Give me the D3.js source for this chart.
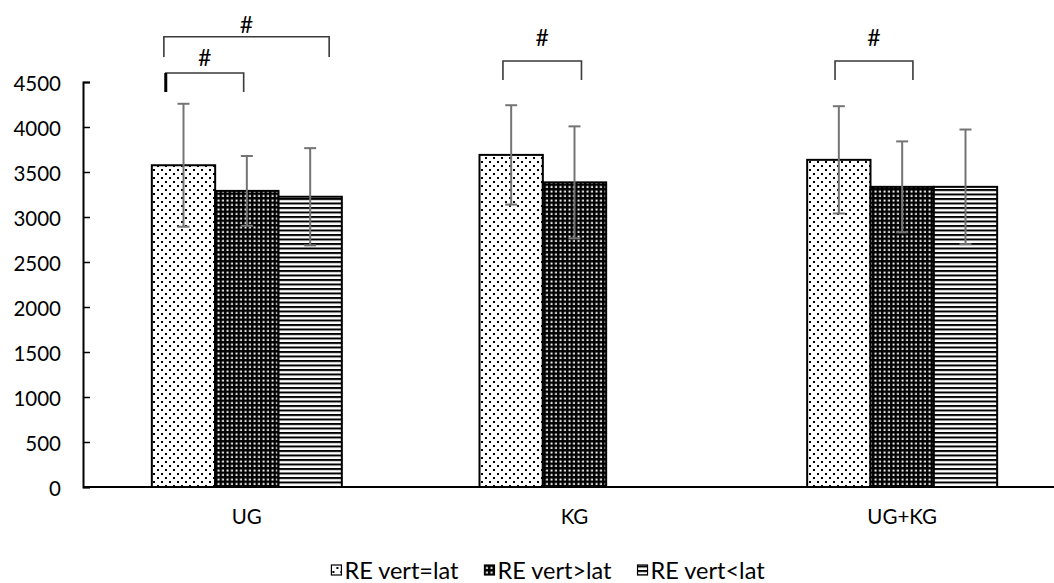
<!DOCTYPE html>
<html>
<head>
<meta charset="utf-8">
<script src="https://cdn.jsdelivr.net/npm/d3@7"></script>
<style>
  html, body { margin: 0; padding: 0; background: #fff; }
  svg { display: block; }
  text { font-family: Lato, "Open Sans", sans-serif; fill: #000; }
</style>
</head>
<body>
<svg id="chart" width="1054" height="583"></svg>
<script>
// Groups on the x axis and the three RE series
const categories = ["UG", "KG", "UG+KG"];
const seriesNames = ["RE vert=lat", "RE vert>lat", "RE vert<lat"];

// Mean values per series (one entry per group; null = no data)
const meanEq = [3575, 3690, 3635];
const meanGt = [3290, 3385, 3335];
const meanLt = [3225, null, 3335];

// Standard deviations per series
const sdEq = [683, 552, 596];
const sdGt = [388, 622, 505];
const sdLt = [540, null, 637];

const yTicks = [0, 500, 1000, 1500, 2000, 2500, 3000, 3500, 4000, 4500];

// Significance brackets: group, start/end in bar units, bracket level, leg level, label level
const bracketGroup = ["UG", "UG", "KG", "UG+KG"];
const bracketFrom  = [0.22, 0.19, 0.37, 0.44];
const bracketTo    = [1.45, 2.8, 1.61, 1.67];
const bracketTop   = [4600, 5003, 4733, 4733];
const bracketLeg   = [4389, 4778, 4522, 4522];
const bracketMark  = [4778, 5144, 5000, 5000];
const bracketText  = ["#", "#", "#", "#"];

const means = [meanEq, meanGt, meanLt];
const sds = [sdEq, sdGt, sdLt];

const svg = d3.select("#chart");
const W = 1054;

const plotLeft = 83, plotRight = 1066, plotBottom = 487, plotTop = 82;

const x0 = d3.scaleBand().domain(categories).range([plotLeft, plotRight]).padding(0);
const groupWidth = 190;
const x1 = d3.scaleBand().domain(seriesNames).range([0, groupWidth]).padding(0);
const y = d3.scaleLinear().domain([0, 4500]).range([plotBottom, plotTop]);

// Fill patterns for the three series
const defs = svg.append("defs");
const pDots = defs.append("pattern").attr("id", "pat0")
  .attr("patternUnits", "userSpaceOnUse").attr("width", 8).attr("height", 8);
pDots.append("rect").attr("width", 8).attr("height", 8).attr("fill", "#fff");
pDots.append("rect").attr("x", 1).attr("y", 1).attr("width", 2).attr("height", 2).attr("fill", "#000");
pDots.append("rect").attr("x", 5).attr("y", 5).attr("width", 2).attr("height", 2).attr("fill", "#000");

const pGrid = defs.append("pattern").attr("id", "pat1")
  .attr("patternUnits", "userSpaceOnUse").attr("width", 4.5).attr("height", 4.5);
pGrid.append("rect").attr("width", 4.5).attr("height", 4.5).attr("fill", "#000");
pGrid.append("rect").attr("x", 1.5).attr("y", 1.5).attr("width", 2).attr("height", 2).attr("fill", "#fff");

const pLines = defs.append("pattern").attr("id", "pat2")
  .attr("patternUnits", "userSpaceOnUse").attr("width", 8).attr("height", 4.5);
pLines.append("rect").attr("width", 8).attr("height", 4.5).attr("fill", "#fff");
pLines.append("rect").attr("y", 0).attr("width", 8).attr("height", 2).attr("fill", "#000");

const fills = ["url(#pat0)", "url(#pat1)", "url(#pat2)"];

// Y axis (inside ticks)
const yAxis = d3.axisRight(y).tickValues(yTicks).tickSize(7).tickFormat("");
const yg = svg.append("g").attr("transform", `translate(${plotLeft},0)`).call(yAxis);
yg.select(".domain").attr("stroke", "#000").attr("stroke-width", 2);
yg.selectAll(".tick line").attr("stroke", "#000").attr("stroke-width", 1.5);

svg.append("g").selectAll("text").data(yTicks).join("text")
  .attr("x", 61).attr("y", d => y(d) + 1)
  .attr("text-anchor", "end").attr("dominant-baseline", "central")
  .style("font-size", "20.5px").text(d => d);

// Bars
const groupStart = c => x0(c) + x0.bandwidth() / 2 - groupWidth / 2;
const barData = [];
seriesNames.forEach((s, si) => {
  categories.forEach((c, ci) => {
    const v = means[si][ci];
    if (v != null) barData.push({ s, si, c, v, sd: sds[si][ci] });
  });
});

svg.append("g").selectAll("rect").data(barData).join("rect")
  .attr("x", d => groupStart(d.c) + x1(d.s))
  .attr("y", d => y(d.v))
  .attr("width", x1.bandwidth())
  .attr("height", d => y(0) - y(d.v))
  .attr("fill", d => fills[d.si])
  .attr("stroke", "#000").attr("stroke-width", 2);

// X axis line
svg.append("line").attr("x1", plotLeft).attr("x2", W).attr("y1", y(0)).attr("y2", y(0))
  .attr("stroke", "#000").attr("stroke-width", 2);

// Error bars
const eb = svg.append("g").attr("stroke", "#747474").attr("stroke-width", 2).attr("fill", "none");
barData.forEach(d => {
  const cx = groupStart(d.c) + x1(d.s) + x1.bandwidth() / 2;
  const y1 = y(d.v + d.sd), y2 = y(d.v - d.sd);
  eb.append("line").attr("x1", cx).attr("x2", cx).attr("y1", y1).attr("y2", y2);
  eb.append("line").attr("x1", cx - 6).attr("x2", cx + 6).attr("y1", y1).attr("y2", y1);
  eb.append("line").attr("x1", cx - 6).attr("x2", cx + 6).attr("y1", y2).attr("y2", y2);
});

// Category labels
svg.append("g").selectAll("text").data(categories).join("text")
  .attr("x", c => x0(c) + x0.bandwidth() / 2).attr("y", 524)
  .attr("text-anchor", "middle")
  .style("font-size", "20.5px").text(c => c);

// Significance brackets
const barUnit = x1.bandwidth();
const br = svg.append("g").attr("fill", "none");
bracketGroup.forEach((g, i) => {
  const xa = groupStart(g) + bracketFrom[i] * barUnit;
  const xb = groupStart(g) + bracketTo[i] * barUnit;
  br.append("path")
    .attr("d", `M${xa},${y(bracketLeg[i])}V${y(bracketTop[i])}H${xb}V${y(bracketLeg[i])}`)
    .attr("stroke", "#3a3a3a").attr("stroke-width", 1.6);
  br.append("text")
    .attr("x", (xa + xb) / 2).attr("y", y(bracketMark[i]))
    .attr("text-anchor", "middle").attr("dominant-baseline", "central")
    .style("font-size", "23px").text(bracketText[i]);
});
// heavier left leg on the inner UG bracket
{
  const xa = groupStart(bracketGroup[0]) + bracketFrom[0] * barUnit;
  br.append("line").attr("x1", xa).attr("x2", xa)
    .attr("y1", y(bracketTop[0])).attr("y2", y(bracketLeg[0]))
    .attr("stroke", "#000").attr("stroke-width", 3);
}

// Legend
const legend = svg.append("g");
const items = legend.selectAll("g").data(seriesNames).join("g");
items.append("rect").attr("y", -5).attr("width", 10).attr("height", 10)
  .attr("fill", (d, i) => fills[i]).attr("stroke", "#000").attr("stroke-width", 1.2);
items.append("text").attr("x", 13).attr("y", 0)
  .attr("dominant-baseline", "central").style("font-size", "23.5px").text(d => d);
let lx = 0;
const offsets = [];
const legendGap = 26;
items.each(function () {
  offsets.push(lx);
  const w = d3.select(this).select("text").node().getComputedTextLength();
  lx += 13 + w + legendGap;
});
const total = lx - legendGap;
const start = 548 - total / 2;
items.attr("transform", (d, i) => `translate(${start + offsets[i]},${570})`);
</script>
</body>
</html>
